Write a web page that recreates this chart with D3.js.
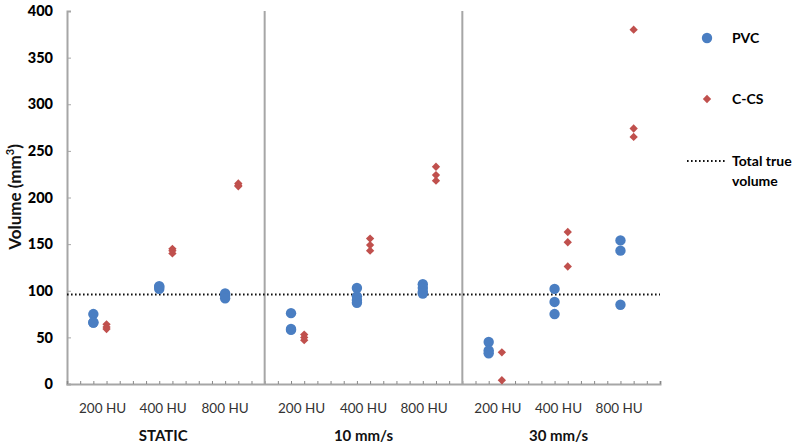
<!DOCTYPE html>
<html><head><meta charset="utf-8">
<script src="https://cdn.jsdelivr.net/npm/d3@7"></script>
<style>body{margin:0;background:#fff}svg{display:block}text{font-family:Lato,"Open Sans",sans-serif}</style>
</head><body><svg id="c" width="800" height="448"></svg>
<script>
// ---- data ----
const groups = ["STATIC", "10 mm/s", "30 mm/s"];
const densities = ["200 HU", "400 HU", "800 HU"];
const yTicks = [0, 50, 100, 150, 200, 250, 300, 350, 400];
const trueVolume = 96;
// PVC values per group, per density
const pvc = [
  [[75, 66, 66], [102, 104, 105], [97, 95, 92]],
  [[76, 58, 59], [103, 94, 90, 87], [107, 103, 99, 97]],
  [[45, 36, 33], [102, 88, 75], [154, 143, 85]]
];
// C-CS values per group, per density
const ccs = [
  [[64, 61, 59], [145, 143, 140], [215, 213, 212]],
  [[53, 50, 47], [156, 149, 143], [233, 224, 218]],
  [[34, 4], [163, 152, 126], [380, 274, 265]]
];

// ---- layout ----
const L = 67, R = 660, T = 11, B = 384;
const x = d3.scaleLinear().domain([0, 45]).range([L, R]);
const y = d3.scaleLinear().domain([0, 400]).range([B, T]);
const blue = "#4A7EC2", red = "#C0504D", grid = "#a6a6a6";
const svg = d3.select("#c");

// flatten points: x position in units: group*15 + density*5 + 2 (PVC) / +3 (C-CS)
const pts = [];
groups.forEach((g, gi) => densities.forEach((d, di) => {
  pvc[gi][di].forEach(v => pts.push({s: "PVC", xv: gi * 15 + di * 5 + 2, v}));
  ccs[gi][di].forEach(v => pts.push({s: "C-CS", xv: gi * 15 + di * 5 + 3, v}));
}));

// axes
const yAxis = d3.axisLeft(y).tickValues(yTicks).tickSize(-4).tickPadding(14);
const gy = svg.append("g").attr("transform", `translate(${L},0)`).call(yAxis);
gy.select(".domain").attr("stroke", grid).attr("stroke-width", 2);
gy.selectAll(".tick line").attr("stroke", grid);
gy.selectAll("text").attr("font-size", 14.5).attr("font-weight", 900).attr("fill", "#000");

const xAxis = d3.axisBottom(x).tickValues(d3.range(0, 46)).tickSize(-3).tickFormat("");
const gx = svg.append("g").attr("transform", `translate(0,${B})`).call(xAxis);
gx.select(".domain").attr("stroke", grid).attr("stroke-width", 2);
gx.selectAll(".tick line").attr("stroke", "#888");

// separators
[15, 30].forEach(v => svg.append("line").attr("x1", x(v)).attr("x2", x(v))
  .attr("y1", y(400)).attr("y2", y(0)).attr("stroke", grid).attr("stroke-width", 2));

// true volume line
svg.append("line").attr("x1", x(0)).attr("x2", x(45)).attr("y1", y(trueVolume)).attr("y2", y(trueVolume))
  .attr("stroke", "#111").attr("stroke-width", 2).attr("stroke-dasharray", "1.6,2.4");

// points
svg.selectAll("circle.p").data(pts.filter(p => p.s === "PVC")).join("circle")
  .attr("cx", p => x(p.xv)).attr("cy", p => y(p.v)).attr("r", 5.2).attr("fill", blue);
const diamond = d3.symbol().type(d3.symbolDiamond2).size(44);
svg.selectAll("path.c").data(pts.filter(p => p.s === "C-CS")).join("path")
  .attr("d", diamond).attr("transform", p => `translate(${x(p.xv)},${y(p.v)})`).attr("fill", red);

// category labels
const labOff = [[2.7, 7.3, 12.0], [17.8, 22.5, 27.1], [32.7, 37.3, 41.9]];
groups.forEach((g, gi) => {
  densities.forEach((d, di) => svg.append("text").attr("x", x(labOff[gi][di])).attr("y", 413)
    .attr("text-anchor", "middle").attr("font-size", 13.5).attr("fill", "#333").text(d));
  svg.append("text").attr("x", x(labOff[gi][1])).attr("y", 441).attr("text-anchor", "middle")
    .attr("font-size", 15).attr("font-weight", "bold").attr("fill", "#111").text(g);
});

// y title
const yt = svg.append("text").attr("transform", "translate(21,197) rotate(-90)").attr("text-anchor", "middle")
  .attr("font-size", 17).attr("font-weight", "bold").attr("fill", "#111");
yt.append("tspan").text("Volume (mm");
yt.append("tspan").attr("font-size", 11).attr("dy", -7).text("3");
yt.append("tspan").attr("dy", 7).text(")");

// legend
svg.append("circle").attr("cx", 707).attr("cy", 38).attr("r", 5.2).attr("fill", blue);
svg.append("text").attr("x", 732).attr("y", 43).attr("font-size", 14).attr("font-weight", "bold").text("PVC");
svg.append("path").attr("d", diamond).attr("transform", "translate(707,99)").attr("fill", red);
svg.append("text").attr("x", 732).attr("y", 104).attr("font-size", 14).attr("font-weight", "bold").text("C-CS");
svg.append("line").attr("x1", 687).attr("x2", 725).attr("y1", 161).attr("y2", 161)
  .attr("stroke", "#111").attr("stroke-width", 2).attr("stroke-dasharray", "1.6,2.4");
svg.append("text").attr("x", 732).attr("y", 166).attr("font-size", 14).attr("font-weight", "bold").text("Total true");
svg.append("text").attr("x", 732).attr("y", 186).attr("font-size", 14).attr("font-weight", "bold").text("volume");
</script></body></html>
